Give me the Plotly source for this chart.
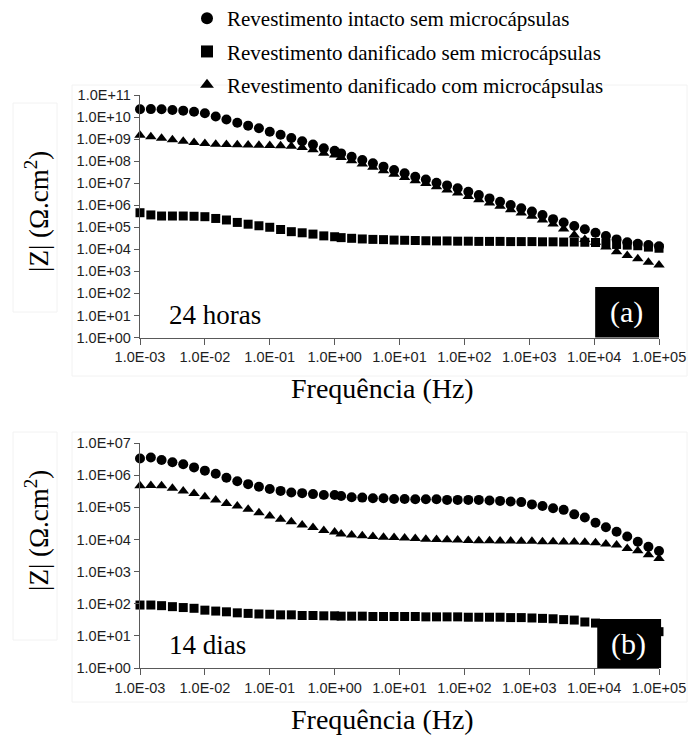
import plotly.graph_objects as go

# Frequency grid of the impedance sweep (Hz)
freq_hz = [0.001, 0.00147, 0.00215, 0.00316, 0.00464, 0.00681,
           0.01, 0.0147, 0.0215, 0.0316, 0.0464, 0.0681,
           0.1, 0.147, 0.215, 0.316, 0.464, 0.681, 1.0,
           1.26, 1.83, 2.67, 3.89, 5.67, 8.25,
           12.0, 17.5, 25.5, 37.2, 54.1, 78.8,
           115, 167, 244, 355, 517, 753,
           1100, 1600, 2330, 3390, 4940, 7190,
           10500, 15200, 22200, 32400, 47100, 68700, 100000]

# |Z| (ohm.cm2) after 24 hours
z24_intacto = [2.24e10, 2.29e10, 2.24e10, 2.09e10, 1.95e10, 1.74e10,
               1.48e10, 1.05e10, 7.76e9, 5.50e9, 4.07e9, 3.09e9,
               2.14e9, 1.58e9, 1.12e9, 7.94e8, 5.62e8, 3.80e8, 2.95e8,
               2.24e8, 1.58e8, 1.12e8, 7.94e7, 5.62e7, 3.98e7,
               2.82e7, 1.95e7, 1.48e7, 1.05e7, 7.94e6, 5.89e6,
               4.07e6, 2.88e6, 2.04e6, 1.45e6, 1.02e6, 7.24e5,
               5.13e5, 3.63e5, 2.34e5, 1.66e5, 1.15e5, 8.13e4,
               5.62e4, 3.98e4, 2.82e4, 2.09e4, 1.78e4, 1.55e4, 1.38e4]
z24_danif_sem = [4.57e5, 3.63e5, 3.24e5, 3.24e5, 3.24e5, 3.16e5,
                 3.02e5, 2.51e5, 2.14e5, 1.66e5, 1.38e5, 1.17e5,
                 1.00e5, 7.94e4, 6.31e4, 5.62e4, 4.90e4, 4.07e4, 3.72e4,
                 3.39e4, 3.16e4, 2.95e4, 2.82e4, 2.75e4, 2.63e4,
                 2.57e4, 2.51e4, 2.45e4, 2.40e4, 2.40e4, 2.34e4,
                 2.34e4, 2.29e4, 2.29e4, 2.29e4, 2.24e4, 2.24e4,
                 2.24e4, 2.19e4, 2.19e4, 2.14e4, 2.14e4, 2.09e4,
                 2.04e4, 1.86e4, 1.66e4, 1.55e4, 1.45e4, 1.26e4, 1.12e4]
z24_danif_com = [1.51e9, 1.29e9, 1.10e9, 9.33e8, 7.94e8, 6.92e8,
                 6.31e8, 5.89e8, 5.62e8, 5.50e8, 5.37e8, 5.25e8,
                 5.13e8, 5.01e8, 4.79e8, 4.17e8, 3.31e8, 2.29e8, 1.91e8,
                 1.48e8, 1.05e8, 7.41e7, 5.25e7, 3.63e7, 2.57e7,
                 1.82e7, 1.29e7, 9.77e6, 6.92e6, 4.90e6, 3.55e6,
                 2.51e6, 1.78e6, 1.26e6, 8.91e5, 6.31e5, 4.47e5,
                 3.16e5, 2.14e5, 1.41e5, 8.32e4, 4.47e4, 2.82e4,
                 2.09e4, 1.26e4, 7.76e3, 5.25e3, 3.72e3, 2.57e3, 1.95e3]

# |Z| (ohm.cm2) after 14 days
z14_intacto = [3.31e6, 3.55e6, 2.95e6, 2.51e6, 2.19e6, 1.74e6,
               1.38e6, 1.10e6, 8.32e5, 6.46e5, 5.25e5, 4.37e5,
               3.72e5, 3.24e5, 2.88e5, 2.75e5, 2.57e5, 2.40e5, 2.40e5,
               2.24e5, 2.04e5, 2.00e5, 1.91e5, 1.91e5, 1.82e5,
               1.82e5, 1.78e5, 1.78e5, 1.78e5, 1.70e5, 1.70e5,
               1.70e5, 1.70e5, 1.62e5, 1.58e5, 1.51e5, 1.45e5,
               1.23e5, 1.10e5, 9.33e4, 8.32e4, 6.03e4, 4.79e4,
               3.31e4, 2.40e4, 1.74e4, 1.23e4, 8.51e3, 5.89e3, 4.37e3]
z14_danif_sem = [91, 91, 87, 81, 76, 72,
                 63, 59, 56, 52, 50, 48,
                 47, 45, 45, 43, 43, 42, 42,
                 41, 41, 41, 40, 40, 40,
                 40, 40, 39, 39, 39, 39,
                 38, 38, 38, 38, 37, 37,
                 36, 35, 34, 32, 31, 27,
                 25, 22, 20, 19, 17, 15, 13.5]
z14_danif_com = [4.68e5, 4.79e5, 4.68e5, 3.89e5, 3.24e5, 2.69e5,
                 2.14e5, 1.70e5, 1.32e5, 1.10e5, 8.71e4, 6.76e4,
                 5.37e4, 4.27e4, 3.55e4, 2.82e4, 2.34e4, 1.91e4, 1.70e4,
                 1.48e4, 1.38e4, 1.29e4, 1.23e4, 1.17e4, 1.15e4,
                 1.10e4, 1.07e4, 1.02e4, 1.00e4, 9.77e3, 9.55e3,
                 9.33e3, 9.12e3, 9.12e3, 8.91e3, 8.91e3, 8.71e3,
                 8.71e3, 8.51e3, 8.51e3, 8.32e3, 8.32e3, 8.13e3,
                 7.94e3, 7.24e3, 6.76e3, 5.25e3, 4.47e3, 3.31e3, 2.57e3]

series_names = ["Revestimento intacto sem microcápsulas",
                "Revestimento danificado sem microcápsulas",
                "Revestimento danificado com microcápsulas"]
series_symbols = ["circle", "square", "triangle-up"]
series_sizes = [10, 9, 10]

x_tickvals = [1e-3, 1e-2, 1e-1, 1e0, 1e1, 1e2, 1e3, 1e4, 1e5]
x_ticktext = ["1.0E-03", "1.0E-02", "1.0E-01", "1.0E+00", "1.0E+01",
              "1.0E+02", "1.0E+03", "1.0E+04", "1.0E+05"]
y24_tickvals = [10.0 ** k for k in range(0, 12)]
y24_ticktext = ["1.0E+00", "1.0E+01", "1.0E+02", "1.0E+03", "1.0E+04", "1.0E+05",
                "1.0E+06", "1.0E+07", "1.0E+08", "1.0E+09", "1.0E+10", "1.0E+11"]
y14_tickvals = [10.0 ** k for k in range(0, 8)]
y14_ticktext = ["1.0E+00", "1.0E+01", "1.0E+02", "1.0E+03", "1.0E+04", "1.0E+05",
                "1.0E+06", "1.0E+07"]

W, H = 688, 735
SERIF = "Liberation Serif, Times New Roman, serif"
SANS = "Liberation Sans, Arial, sans-serif"

fig = go.Figure()

panels = [
    ("x", "y", [z24_intacto, z24_danif_sem, z24_danif_com], True),
    ("x2", "y2", [z14_intacto, z14_danif_sem, z14_danif_com], False),
]
for xa, ya, ys, show in panels:
    for name, sym, size, yv in zip(series_names, series_symbols, series_sizes, ys):
        fig.add_trace(go.Scatter(
            x=freq_hz, y=yv, mode="markers", name=name,
            xaxis=xa, yaxis=ya, showlegend=show, legendgroup=name,
            cliponaxis=False,
            marker=dict(symbol=sym, size=size, color="black", line=dict(width=0)),
        ))

# plot geometry (pixels)
px_left, px_right = 140, 659
top_y0, top_y1 = 95, 337.5
bot_y0, bot_y1 = 443, 668

axis_common = dict(
    showline=True, linecolor="#595959", linewidth=1.3,
    ticks="outside", tickcolor="#595959", tickwidth=1.3,
    showgrid=False, zeroline=False, mirror=False, automargin=False,
    tickfont=dict(family=SANS, size=14.5, color="#1e1e1e"),
)

xdom = [px_left / W, px_right / W]
fig.update_layout(
    width=W, height=H,
    margin=dict(l=0, r=0, t=0, b=0, pad=0, autoexpand=False),
    paper_bgcolor="white", plot_bgcolor="white",
    showlegend=True,
    legend=dict(
        x=187 / W, y=1 + 2 / H, xanchor="left", yanchor="top",
        font=dict(family=SERIF, size=21, color="black"),
        itemsizing="constant", tracegroupgap=3,
        bgcolor="rgba(0,0,0,0)", borderwidth=0,
    ),
    xaxis=dict(type="log", range=[-3, 5], domain=xdom, anchor="y",
               tickvals=x_tickvals, ticktext=x_ticktext, ticklen=6, **axis_common),
    yaxis=dict(type="log", range=[0, 11], domain=[1 - top_y1 / H, 1 - top_y0 / H],
               anchor="x", tickvals=y24_tickvals, ticktext=y24_ticktext, ticklen=5,
               **axis_common),
    xaxis2=dict(type="log", range=[-3, 5], domain=xdom, anchor="y2",
                tickvals=x_tickvals, ticktext=x_ticktext, ticklen=6, **axis_common),
    yaxis2=dict(type="log", range=[0, 7], domain=[1 - bot_y1 / H, 1 - bot_y0 / H],
                anchor="x2", tickvals=y14_tickvals, ticktext=y14_ticktext, ticklen=5,
                **axis_common),
)

# faint frames around the chart areas and the vertical titles
faint = dict(color="#f2f2f2", width=1)
for (x0, y0, x1, y1) in [(72, 85, 687, 376), (13, 103, 57, 312),
                         (72, 432, 687, 702), (13, 432, 57, 640)]:
    fig.add_shape(type="rect", xref="paper", yref="paper",
                  x0=x0 / W, x1=x1 / W, y0=1 - y1 / H, y1=1 - y0 / H,
                  line=faint, fillcolor="rgba(0,0,0,0)", layer="below")

# black label boxes in the lower-right corner of each panel
fig.add_shape(type="rect", xref="x domain", yref="y domain",
              x0=0.877, x1=1.0, y0=0.0, y1=0.208,
              fillcolor="black", line=dict(width=0), layer="above")
fig.add_shape(type="rect", xref="x2 domain", yref="y2 domain",
              x0=0.881, x1=1.004, y0=0.0, y1=0.218,
              fillcolor="black", line=dict(width=0), layer="above")

centered = dict(showarrow=False, xanchor="center", yanchor="middle")
ann = []
ann.append(dict(text="(a)", xref="x domain", yref="y domain", x=0.938, y=0.104,
                font=dict(family=SERIF, size=30, color="white"), **centered))
ann.append(dict(text="(b)", xref="x2 domain", yref="y2 domain", x=0.942, y=0.107,
                font=dict(family=SERIF, size=30, color="white"), **centered))
ann.append(dict(text="24 horas", xref="x domain", yref="y domain", x=0.1445, y=0.093,
                font=dict(family=SERIF, size=27, color="black"), **centered))
ann.append(dict(text="14 dias", xref="x2 domain", yref="y2 domain", x=0.130, y=0.102,
                font=dict(family=SERIF, size=27, color="black"), **centered))
for yc in (388, 719):
    ann.append(dict(text="Frequência (Hz)", xref="paper", yref="paper",
                    x=382 / W, y=1 - yc / H,
                    font=dict(family=SERIF, size=28, color="black"), **centered))
for yc in (212, 531):
    ann.append(dict(text="|Z| (Ω.cm<sup>2</sup>)", xref="paper", yref="paper",
                    x=37 / W, y=1 - yc / H, textangle=-90,
                    font=dict(family=SERIF, size=27, color="black"), **centered))
fig.update_layout(annotations=ann)

fig.write_html("out.html")
